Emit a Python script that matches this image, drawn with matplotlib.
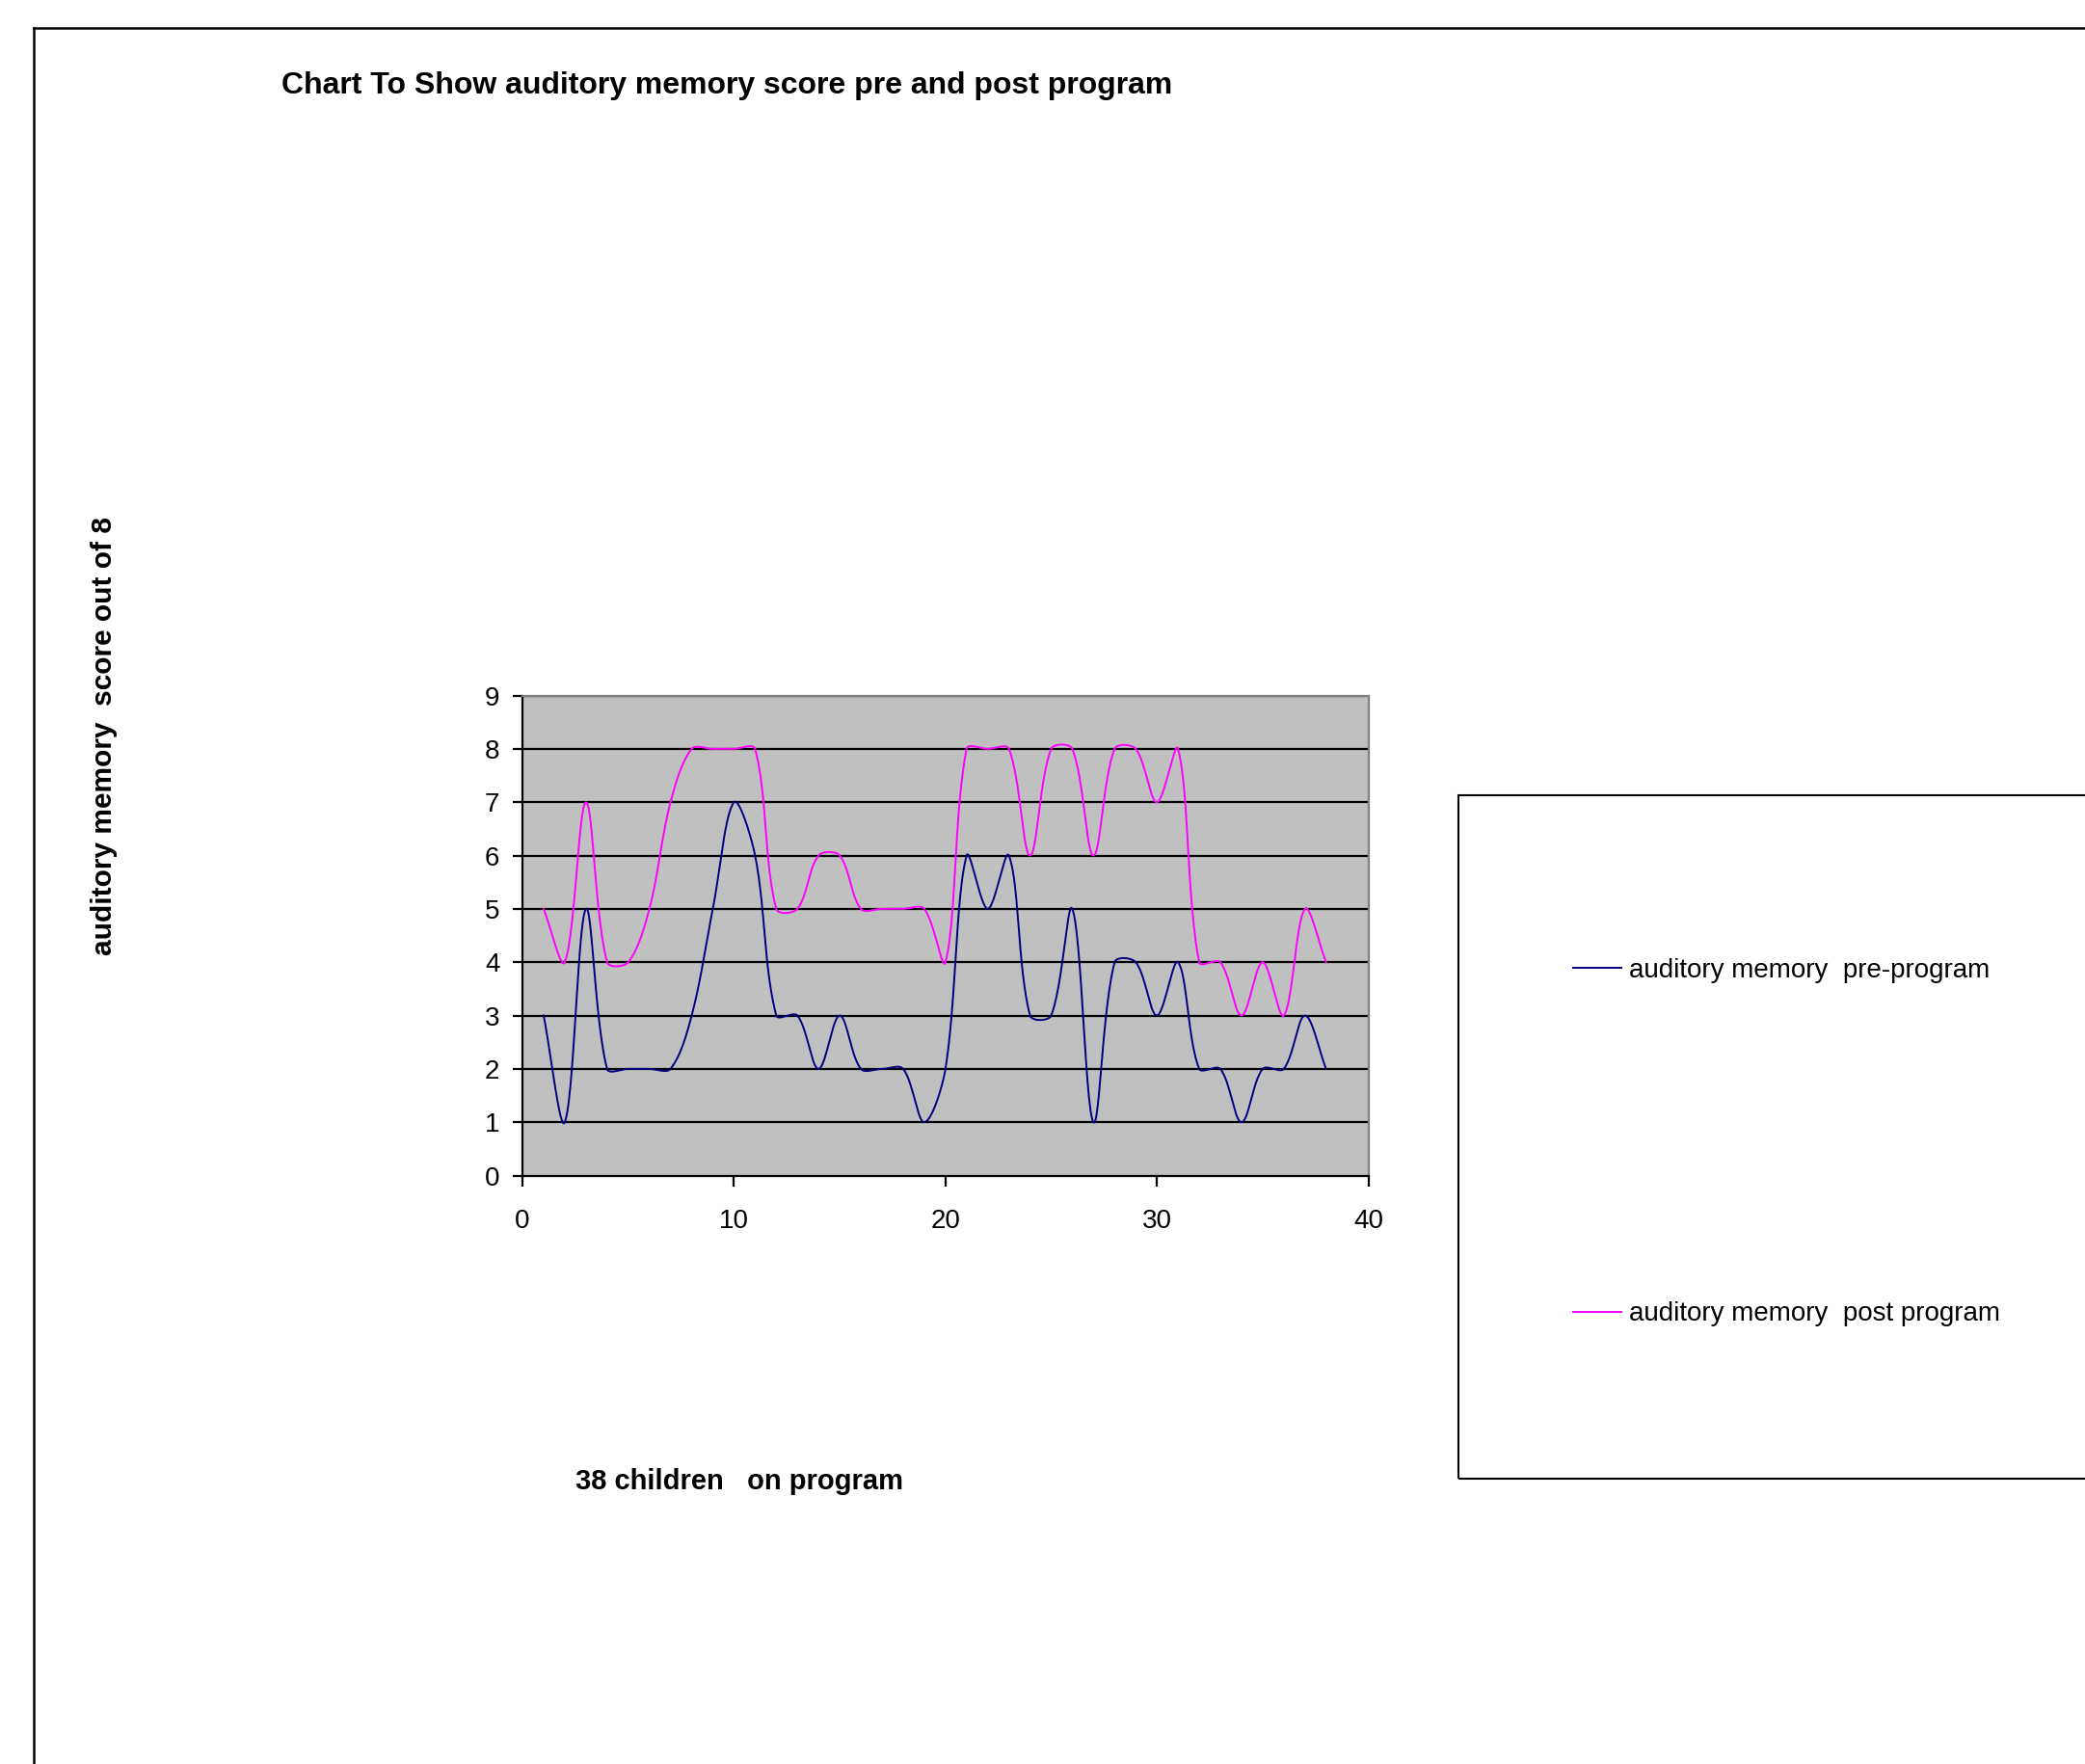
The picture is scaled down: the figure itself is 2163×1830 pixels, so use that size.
import numpy as np
import matplotlib.pyplot as plt
from matplotlib.lines import Line2D
from matplotlib.patches import Rectangle

plt.rcParams['font.family'] = ['Liberation Sans', 'DejaVu Sans']

# children 1..38 and their scores out of 8
children = np.arange(1, 39)
pre_program = [3, 1, 5, 2, 2, 2, 2, 3, 5, 7, 6, 3, 3, 2, 3, 2, 2, 2, 1, 2,
               6, 5, 6, 3, 3, 5, 1, 4, 4, 3, 4, 2, 2, 1, 2, 2, 3, 2]
post_program = [5, 4, 7, 4, 4, 5, 7, 8, 8, 8, 8, 5, 5, 6, 6, 5, 5, 5, 5, 4,
                8, 8, 8, 6, 8, 8, 6, 8, 8, 7, 8, 4, 4, 3, 4, 3, 5, 4]
series_labels = ['auditory memory  pre-program', 'auditory memory  post program']
x_ticks = [0, 10, 20, 30, 40]
y_ticks = list(range(0, 10))


# smoothed line like the spreadsheet one: bezier between the points,
# tangents scaled by segment length on screen (px per unit in x and y)
def smooth(x, y, sx=21.9, sy=55.3, n=30):
    P = np.column_stack((np.asarray(x, float) * sx, np.asarray(y, float) * sy))
    P = np.vstack((P[0], P, P[-1]))
    out = []
    t = np.linspace(0, 1, n)[:, None]
    for i in range(1, len(P) - 2):
        p0, p1, p2, p3 = P[i - 1], P[i], P[i + 1], P[i + 2]
        d1 = np.linalg.norm(p1 - p0)
        d2 = np.linalg.norm(p2 - p1)
        d3 = np.linalg.norm(p3 - p2)
        c1 = p1 + (p2 - p0) * d2 / (d1 + d2) / 3 if d1 + d2 > 0 else p1
        c2 = p2 - (p3 - p1) * d2 / (d2 + d3) / 3 if d2 + d3 > 0 else p2
        seg = ((1 - t) ** 3 * p1 + 3 * (1 - t) ** 2 * t * c1
               + 3 * (1 - t) * t ** 2 * c2 + t ** 3 * p2)
        out.append(seg)
    out = np.vstack(out)
    return out[:, 0] / sx, out[:, 1] / sy


fig = plt.figure(figsize=(21.63, 18.30), dpi=100)
ax = fig.add_axes([0.2506, 0.3336, 0.4057, 0.2721])
ax.set_facecolor('#C0C0C0')

for yv in y_ticks[1:]:
    ax.axhline(yv, color='black', lw=1.6, zorder=1)

sx, sy = smooth(children, pre_program)
ax.plot(sx, sy, color='#000080', lw=1.4, zorder=3, label=series_labels[0])
sx, sy = smooth(children, post_program)
ax.plot(sx, sy, color='#FF00FF', lw=1.4, zorder=3, label=series_labels[1])

ax.set_xlim(0, 40)
ax.set_ylim(0, 9)
ax.set_xticks(x_ticks)
ax.set_yticks(y_ticks)
ax.tick_params(axis='both', labelsize=20, direction='out', width=1.6, color='black')
ax.tick_params(axis='x', length=8, pad=17)
ax.tick_params(axis='y', length=7, pad=10)
ax.spines['left'].set_linewidth(1.6)
ax.spines['bottom'].set_linewidth(1.6)
ax.spines['top'].set_color('#808080')
ax.spines['right'].set_color('#808080')
ax.spines['top'].set_linewidth(1.6)
ax.spines['right'].set_linewidth(1.6)

# outer chart border (runs off the page to the right and bottom)
fig.add_artist(Line2D([0.016, 0.016], [0, 0.984], color='black', lw=1.8))
fig.add_artist(Line2D([0.016, 1], [0.984, 0.984], color='black', lw=1.8))

fig.text(0.135, 0.9515, 'Chart To Show auditory memory score pre and post program',
         fontsize=23, fontweight='bold', va='center', ha='left')
fig.text(0.0497, 0.5825, 'auditory memory  score out of 8', fontsize=21.5,
         fontweight='bold', rotation=90, va='center', ha='center')
fig.text(0.3547, 0.160, '38 children   on program', fontsize=21,
         fontweight='bold', va='center', ha='center')

# legend box
fig.add_artist(Rectangle((0.6995, 0.1617), 0.5, 0.3875, transform=fig.transFigure,
                         fill=False, edgecolor='black', lw=1.5))
fig.legend(loc='upper left', bbox_to_anchor=(0.748, 0.4645), frameon=False,
           fontsize=20, handlelength=1.8, handletextpad=0.3, labelspacing=11.9,
           borderpad=0)

fig.savefig('out.png', dpi=100)
